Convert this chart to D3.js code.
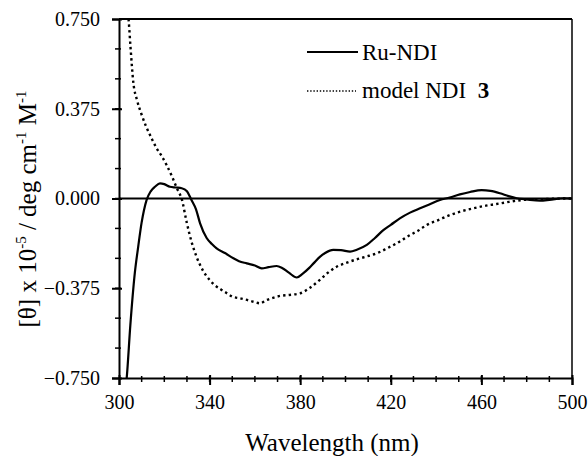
<!DOCTYPE html>
<html>
<head>
<meta charset="utf-8">
<script src="https://cdn.jsdelivr.net/npm/d3@7"></script>
<style>
  body { margin:0; background:#fff; }
  svg text { font-family: "Liberation Serif", "Times New Roman", Times, serif !important; fill:#000; }
</style>
</head>
<body>
<svg id="chart"></svg>
<script>
// Ru-NDI (solid)
var ruWave = [302,303.4,305,307,308.5,310,311,312.2,314,316,318.1,320,322.5,325,327.7,330,331.3,332,334,335.8,338.7,341,343.1,346.8,350.5,353,356.4,360,363,366,369.6,372,375,378.5,381,384,386,388.8,391,394.6,398,402,405,409.4,413,416.7,420,424,428.5,432.9,437,441.7,446,450.5,455,460.1,464,468.2,472,475.6,480,485.9,490,496.2,500];
var ruVal  = [-0.85,-0.75,-0.53,-0.31,-0.2,-0.1,-0.05,-0.006,0.03,0.05,0.063,0.06,0.049,0.046,0.043,0.03,0.008,-0.006,-0.045,-0.104,-0.165,-0.19,-0.208,-0.228,-0.25,-0.262,-0.271,-0.28,-0.292,-0.287,-0.282,-0.29,-0.31,-0.33,-0.315,-0.29,-0.27,-0.243,-0.228,-0.215,-0.216,-0.222,-0.214,-0.194,-0.165,-0.132,-0.11,-0.083,-0.059,-0.041,-0.025,-0.006,0.004,0.017,0.027,0.035,0.032,0.022,0.01,0.001,-0.004,-0.009,-0.006,0.001,0];

// model NDI 3 (dotted)
var ndiWave = [303.5,304.3,305.1,306.3,308,310,312,313.7,316.6,319,321,323.5,325.5,327.8,329.9,332,334.3,337,340,342,345,348,350,353.4,357,360,362.3,365,368,371.1,375,380,384,388.7,392,396.1,400,405,409,413.8,418,422.6,428.5,432,435.8,441,446.1,451,456.4,462,466.7,471,475.6,480,485.9,492,497.7,500];
var ndiVal  = [0.82,0.74,0.63,0.487,0.41,0.35,0.3,0.265,0.21,0.175,0.14,0.09,0.044,-0.006,-0.10,-0.18,-0.245,-0.3,-0.34,-0.36,-0.38,-0.398,-0.41,-0.417,-0.425,-0.433,-0.438,-0.425,-0.415,-0.407,-0.403,-0.396,-0.375,-0.34,-0.312,-0.285,-0.27,-0.254,-0.243,-0.229,-0.21,-0.187,-0.153,-0.135,-0.111,-0.09,-0.069,-0.054,-0.041,-0.03,-0.023,-0.016,-0.009,-0.005,-0.003,-0.001,0,0];

var xMajor = [300,340,380,420,460,500];
var yMajor = [0.750,0.375,0.000,-0.375,-0.750];

var svg = d3.select("#chart")
            .attr("width",588)
            .attr("height",456);

var margins = {left:119, right:572, top:19, bottom:378};

var xScale = d3.scaleLinear().domain([300,500]).range([margins.left,margins.right]);
var yScale = d3.scaleLinear().domain([-0.75,0.75]).range([margins.bottom,margins.top]);

svg.append("clipPath").attr("id","plotclip")
   .append("rect")
   .attr("x",margins.left).attr("y",margins.top)
   .attr("width",margins.right-margins.left).attr("height",margins.bottom-margins.top);

// frame
svg.append("line").attr("x1",margins.left).attr("x2",margins.right)
   .attr("y1",margins.top).attr("y2",margins.top)
   .attr("stroke","#000").attr("stroke-width",2);
svg.append("line").attr("x1",margins.right).attr("x2",margins.right)
   .attr("y1",margins.top).attr("y2",margins.bottom)
   .attr("stroke","#000").attr("stroke-width",1.5);

// zero line
svg.append("line").attr("x1",margins.left).attr("x2",margins.right)
   .attr("y1",yScale(0)).attr("y2",yScale(0))
   .attr("stroke","#000").attr("stroke-width",1.8);

// x axis
var xAxis = d3.axisBottom(xScale).tickValues(xMajor).tickSize(7).tickPadding(10)
              .tickFormat(d3.format("d"));
var gx = svg.append("g").attr("transform","translate(0,"+margins.bottom+")").call(xAxis);
gx.selectAll(".tick line").attr("y1",-3).attr("stroke-width",2);
gx.selectAll("text").attr("font-size",20);
gx.append("g").selectAll("line")
  .data(d3.range(310,500,10))
  .enter().append("line")
  .attr("x1",function(d){ return xScale(d); })
  .attr("x2",function(d){ return xScale(d); })
  .attr("y1",-2).attr("y2",4)
  .attr("stroke","#000").attr("stroke-width",1.5);
gx.select(".domain").attr("stroke-width",2);

// y axis
var yAxis = d3.axisLeft(yScale).tickValues(yMajor).tickSize(7).tickPadding(12)
              .tickFormat(d3.format(".3f"));
var gy = svg.append("g").attr("transform","translate("+margins.left+",0)").call(yAxis);
gy.selectAll(".tick line").attr("x1",3).attr("stroke-width",2);
gy.selectAll("text").attr("font-size",20);
gy.append("g").selectAll("line")
  .data(d3.range(-0.625,0.75,0.125))
  .enter().append("line")
  .attr("x1",-4).attr("x2",2)
  .attr("y1",function(d){ return yScale(d); })
  .attr("y2",function(d){ return yScale(d); })
  .attr("stroke","#000").attr("stroke-width",1.5);
gy.select(".domain").attr("stroke-width",2);

// curves
var line = d3.line()
             .x(function(d){ return xScale(d[0]); })
             .y(function(d){ return yScale(d[1]); })
             .curve(d3.curveMonotoneX);

var plot = svg.append("g").attr("clip-path","url(#plotclip)");
plot.append("path")
    .datum(d3.zip(ruWave,ruVal))
    .attr("d",line)
    .attr("fill","none").attr("stroke","#000").attr("stroke-width",2.2);
plot.append("path")
    .datum(d3.zip(ndiWave,ndiVal))
    .attr("d",line)
    .attr("fill","none").attr("stroke","#000").attr("stroke-width",2.4)
    .attr("stroke-dasharray","2.4,3.2");

// legend
var legend = svg.append("g").attr("transform","translate(307,0)");
legend.append("line").attr("x1",0).attr("x2",51).attr("y1",52).attr("y2",52)
      .attr("stroke","#000").attr("stroke-width",1.8);
legend.append("text").attr("x",55).attr("y",60).attr("font-size",23).text("Ru-NDI");
legend.append("line").attr("x1",0).attr("x2",49).attr("y1",91).attr("y2",91)
      .attr("stroke","#000").attr("stroke-width",1.6).attr("stroke-dasharray","1.4,1.8");
var lt = legend.append("text").attr("x",55).attr("y",98).attr("font-size",23);
lt.append("tspan").text("model NDI\u00a0\u00a0");
lt.append("tspan").attr("font-weight","bold").text("3");

// axis titles
svg.append("text")
   .attr("x",332).attr("y",451)
   .attr("text-anchor","middle")
   .attr("font-size",25)
   .text("Wavelength (nm)");

var yl = svg.append("text")
   .attr("transform","translate(36,209) rotate(-90)")
   .attr("text-anchor","middle")
   .attr("font-size",25);
yl.append("tspan").text("[\u03b8] x 10");
yl.append("tspan").attr("font-size",15).attr("dy",-10).text("-5");
yl.append("tspan").attr("dy",10).text(" / deg cm");
yl.append("tspan").attr("font-size",15).attr("dy",-10).text("-1");
yl.append("tspan").attr("dy",10).text(" M");
yl.append("tspan").attr("font-size",15).attr("dy",-10).text("-1");
</script>
</body>
</html>
